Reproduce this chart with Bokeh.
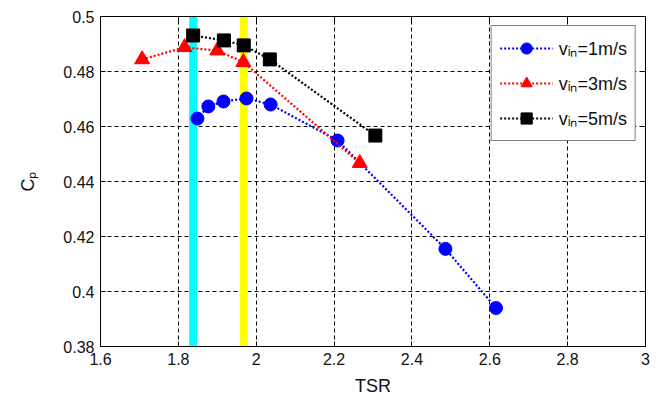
from bokeh.plotting import figure
from bokeh.models import FixedTicker, Range1d, Legend, LegendItem, LinearAxis
from bokeh.embed import file_html
from bokeh.resources import INLINE

# data
tsr_1 = [1.849, 1.877, 1.916, 1.975, 2.037, 2.209, 2.486, 2.616]
cp_1 = [0.4629, 0.4673, 0.4691, 0.4702, 0.4680, 0.4549, 0.4155, 0.3940]
tsr_3 = [1.707, 1.816, 1.900, 1.967, 2.266]
cp_3 = [0.4844, 0.4888, 0.4876, 0.4834, 0.4467]
tsr_5 = [1.838, 1.917, 1.968, 2.035, 2.306]
cp_5 = [0.4931, 0.4913, 0.4895, 0.4844, 0.4567]
band_x = [1.838, 1.968]
band_colors = ["#00FFFF", "#FFFF00"]
x_ticks = [1.6, 1.8, 2.0, 2.2, 2.4, 2.6, 2.8, 3.0]
x_tick_labels = ["1.6", "1.8", "2", "2.2", "2.4", "2.6", "2.8", "3"]
y_ticks = [0.38, 0.40, 0.42, 0.44, 0.46, 0.48, 0.50]
y_tick_labels = ["0.38", "0.4", "0.42", "0.44", "0.46", "0.48", "0.5"]
labels = ["v\u1d62\u2099=1m/s", "v\u1d62\u2099=3m/s", "v\u1d62\u2099=5m/s"]
x_min, x_max = 1.6, 3.0
y_min, y_max = 0.38, 0.5

FONT = "Liberation Sans"

p = figure(width=661, height=398, output_backend="svg", toolbar_location=None,
           x_range=Range1d(x_min, x_max), y_range=Range1d(y_min, y_max),
           min_border_left=100, min_border_right=16, min_border_top=16,
           min_border_bottom=52)
p.background_fill_color = "white"
p.border_fill_color = "white"
p.outline_line_color = "black"
p.outline_line_width = 1

for ax, ticks, labs in ((p.xaxis[0], x_ticks, x_tick_labels), (p.yaxis[0], y_ticks, y_tick_labels)):
    ax.ticker = FixedTicker(ticks=ticks)
    ax.major_label_overrides = {t: l for t, l in zip(ticks, labs)}
    ax.major_label_text_font = FONT
    ax.major_label_text_font_size = "16px"
    ax.major_label_text_color = "#111111"
    ax.axis_label_text_font = FONT
    ax.axis_label_text_font_size = "18px"
    ax.axis_label_text_font_style = "normal"
    ax.axis_label_text_color = "#111111"
    ax.major_tick_in = 5
    ax.major_tick_out = 0
    ax.minor_tick_line_color = None
    ax.axis_line_color = "black"
    ax.major_tick_line_color = "black"

p.xaxis.axis_label = "TSR"
p.yaxis.axis_label = "C\u209a"
p.xaxis.major_label_standoff = 6
p.yaxis.major_label_standoff = 6
p.xaxis.axis_label_standoff = 8
p.yaxis.axis_label_standoff = 22

for loc, ticks in (("right", y_ticks), ("above", x_ticks)):
    ax = LinearAxis(ticker=FixedTicker(ticks=ticks), major_label_text_font_size="0px",
                    major_tick_in=5, major_tick_out=0, minor_tick_line_color=None,
                    axis_line_color="black", major_tick_line_color="black")
    p.add_layout(ax, loc)

p.grid.grid_line_color = "black"
p.grid.grid_line_dash = "4 3"
p.grid.grid_line_width = 1

# vertical bands
p.segment(x0=band_x, x1=band_x, y0=[y_min, y_min], y1=[y_max, y_max],
          line_color=band_colors, line_width=8)

r1l = p.line(tsr_1, cp_1, line_color="blue", line_width=2.2, line_dash="2 2")
r1m = p.scatter(tsr_1, cp_1, marker="circle", size=13, fill_color="blue", line_color="blue")
r3l = p.line(tsr_3, cp_3, line_color="red", line_width=2.2, line_dash="2 2")
r3m = p.scatter(tsr_3, cp_3, marker="triangle", size=15, fill_color="red", line_color="red")
r5l = p.line(tsr_5, cp_5, line_color="black", line_width=2.2, line_dash="2 2")
r5m = p.scatter(tsr_5, cp_5, marker="square", size=13, fill_color="black", line_color="black")

legend = Legend(items=[LegendItem(label=labels[0], renderers=[r1l, r1m]),
                       LegendItem(label=labels[1], renderers=[r3l, r3m]),
                       LegendItem(label=labels[2], renderers=[r5l, r5m])],
                location="top_right", margin=9, padding=8, spacing=7,
                label_height=28, glyph_height=28, glyph_width=53, label_standoff=6,
                label_text_font=FONT, label_text_font_size="18px",
                label_text_color="#111111",
                border_line_color="black", border_line_width=1,
                background_fill_color="white", background_fill_alpha=1)
p.add_layout(legend, "center")

open("out.html", "w").write(file_html(p, INLINE))
